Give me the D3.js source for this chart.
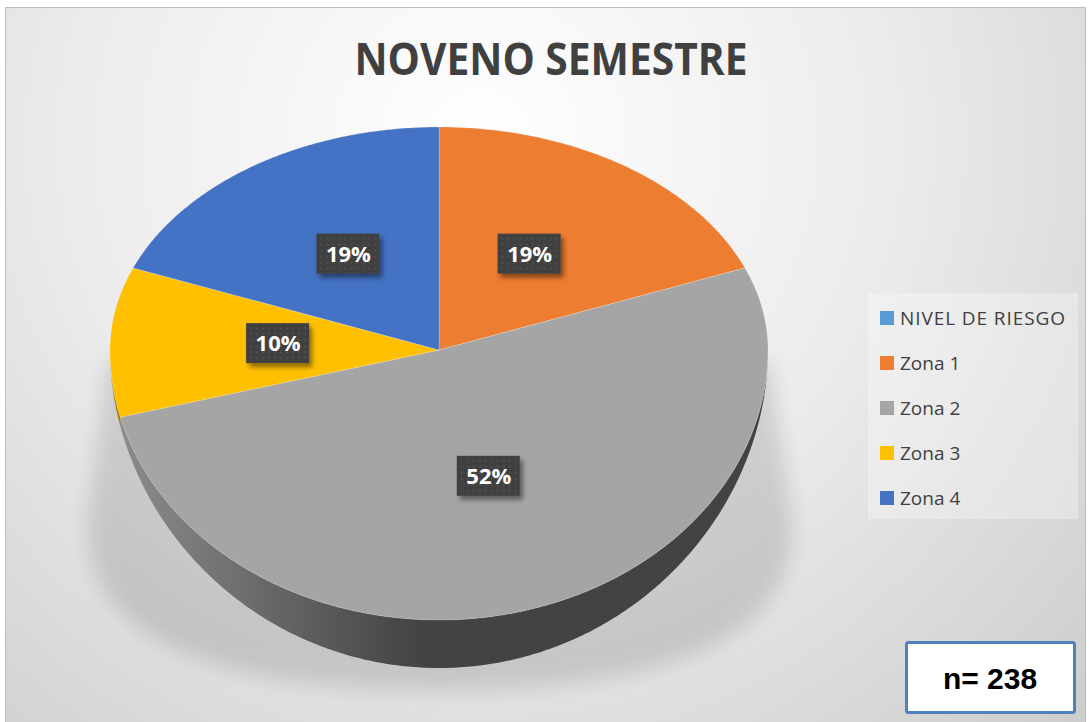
<!DOCTYPE html>
<html>
<head>
<meta charset="utf-8">
<script src="https://cdn.jsdelivr.net/npm/d3@7"></script>
<style>
  body { margin: 0; background: #fff; }
  svg { display: block; }
</style>
</head>
<body>
<script>
// Chart data
const categories = ["NIVEL DE RIESGO", "Zona 1", "Zona 2", "Zona 3", "Zona 4"];
const values = [0, 19, 52, 10, 19];
const colors = ["#5B9BD5", "#ED7D31", "#A5A5A5", "#FFC000", "#4472C4"];
const title = "NOVENO SEMESTRE";
const sampleSize = "n= 238";

let width = 1089;
let height = 722;

// Pie geometry (tilted, with perspective: front half looks taller)
let cx = 439, cy = 350;
let rx = 329, ryTop = 223, ryBottom = 270;
let depth = 48;

var svg = d3.select('body').append('svg')
  .attr('width', width)
  .attr('height', height);

var defs = svg.append('defs');

// Background gradient
var bg = defs.append('radialGradient').attr('id', 'bg')
  .attr('gradientUnits', 'userSpaceOnUse')
  .attr('cx', 480).attr('cy', 140).attr('r', 900);
bg.append('stop').attr('offset', 0).attr('stop-color', '#ffffff');
bg.append('stop').attr('offset', 0.45).attr('stop-color', '#ececec');
bg.append('stop').attr('offset', 1).attr('stop-color', '#c8c8c8');

// Side shading
var side = defs.append('linearGradient').attr('id', 'side')
  .attr('gradientUnits', 'userSpaceOnUse')
  .attr('x1', 110).attr('x2', 420).attr('y1', 0).attr('y2', 0);
side.append('stop').attr('offset', 0).attr('stop-color', '#8e8e8e');
side.append('stop').attr('offset', 1).attr('stop-color', '#434343');

var blur = defs.append('filter').attr('id', 'blur')
  .attr('x', '-20%').attr('y', '-20%').attr('width', '140%').attr('height', '140%');
blur.append('feGaussianBlur').attr('stdDeviation', 10);

var lblShadow = defs.append('filter').attr('id', 'lblShadow')
  .attr('x', '-30%').attr('y', '-30%').attr('width', '160%').attr('height', '170%');
lblShadow.append('feDropShadow').attr('dx', 3).attr('dy', 4)
  .attr('stdDeviation', 2.5).attr('flood-color', '#000').attr('flood-opacity', 0.45);

// Dotted texture for the label boxes
var dots = defs.append('pattern').attr('id', 'dots')
  .attr('patternUnits', 'userSpaceOnUse').attr('width', 6).attr('height', 6);
dots.append('rect').attr('width', 6).attr('height', 6).attr('fill', '#404040');
dots.append('circle').attr('cx', 3).attr('cy', 3).attr('r', 0.9).attr('fill', '#555');

// Chart area
svg.append('rect').attr('x', 5.5).attr('y', 7.5).attr('width', 1080).attr('height', 720)
  .attr('fill', 'url(#bg)').attr('stroke', '#bdbdbd');

// Title
svg.append('text')
  .attr('x', 551).attr('y', 75)
  .attr('text-anchor', 'middle')
  .attr('font-family', 'Open Sans, sans-serif')
  .attr('font-weight', 'bold')
  .attr('font-size', 44)
  .attr('fill', '#404040')
  .attr('textLength', 393)
  .attr('lengthAdjust', 'spacingAndGlyphs')
  .text(title);

// Project an angle (clockwise from 12 o'clock) onto the tilted top face
function proj(a, f) {
  let c = Math.cos(a);
  return [cx + rx * f * Math.sin(a), cy - f * c * (c > 0 ? ryTop : ryBottom)];
}

function sideDepth(a) {
  return depth * Math.pow(Math.max(0, -Math.cos(a)), 1.2);
}

function sampleAngles(a0, a1) {
  let n = Math.max(2, Math.ceil((a1 - a0) / 0.01));
  return d3.range(n + 1).map(i => a0 + (a1 - a0) * i / n);
}

var pie = d3.pie().sort(null).value(d => d).startAngle(0).endAngle(2 * Math.PI);
var arcs = pie(values);

// Soft shadow under the pie
svg.append('path')
  .attr('d', 'M108,360 L770,360 L792,520 Q800,690 439,690 Q80,690 88,520 Z')
  .attr('fill', '#000').attr('opacity', 0.12).attr('filter', 'url(#blur)');

// Side walls (front half only)
arcs.forEach(function(d, i) {
  let s = Math.max(d.startAngle, Math.PI / 2);
  let e = Math.min(d.endAngle, 3 * Math.PI / 2);
  if (e <= s) return;
  let angs = sampleAngles(s, e);
  let top = angs.map(a => proj(a, 1));
  let bottom = angs.slice().reverse().map(a => {
    let p = proj(a, 1);
    return [p[0], p[1] + sideDepth(a)];
  });
  let pts = top.concat(bottom);
  let fill = i === 2 ? 'url(#side)' : d3.color(colors[i]).darker(1.2);
  svg.append('path')
    .attr('d', 'M' + pts.map(p => p.join(',')).join('L') + 'Z')
    .attr('fill', fill);
});

// Top face slices
arcs.forEach(function(d, i) {
  if (d.endAngle - d.startAngle <= 0) return;
  let pts = [[cx, cy]].concat(sampleAngles(d.startAngle, d.endAngle).map(a => proj(a, 1)));
  svg.append('path')
    .attr('d', 'M' + pts.map(p => p.join(',')).join('L') + 'Z')
    .attr('fill', colors[i])
    .attr('stroke', '#ffffff')
    .attr('stroke-opacity', 0.35)
    .attr('stroke-width', 0.6);
});

// Data labels
var fmt = d3.format('.0%');
arcs.forEach(function(d, i) {
  if (d.value <= 0) return;
  let mid = (d.startAngle + d.endAngle) / 2;
  let p = proj(mid, 0.49);
  if (Math.cos(mid) > 0.5) p[1] -= 6;
  let g = svg.append('g').attr('transform', 'translate(' + p[0] + ',' + p[1] + ')');
  g.append('rect')
    .attr('x', -32).attr('y', -20).attr('width', 63).attr('height', 40)
    .attr('fill', 'url(#dots)')
    .attr('filter', 'url(#lblShadow)');
  g.append('text')
    .attr('text-anchor', 'middle').attr('dy', '0.36em')
    .attr('font-family', 'Open Sans, sans-serif')
    .attr('font-weight', 'bold').attr('font-size', 22)
    .attr('fill', '#ffffff')
    .text(fmt(d.value / 100));
});

// Legend
var legend = svg.append('g');
legend.append('rect')
  .attr('x', 868).attr('y', 293).attr('width', 210).attr('height', 226)
  .attr('fill', '#ffffff').attr('opacity', 0.3);
categories.forEach(function(c, i) {
  let y = 318 + i * 45;
  legend.append('rect')
    .attr('x', 880).attr('y', y - 7).attr('width', 14).attr('height', 14)
    .attr('fill', colors[i]);
  legend.append('text')
    .attr('x', 900).attr('y', y).attr('dy', '0.35em')
    .attr('font-family', 'Open Sans, sans-serif')
    .attr('font-size', 19)
    .attr('fill', '#404040')
    .attr('textLength', c.length > 10 ? 165 : null)
    .text(c);
});

// Sample size box
svg.append('rect')
  .attr('x', 906.5).attr('y', 642.5).attr('width', 168).attr('height', 70).attr('rx', 2)
  .attr('fill', '#ffffff').attr('stroke', '#4f81bd').attr('stroke-width', 3);
svg.append('text')
  .attr('x', 990).attr('y', 678).attr('dy', '0.35em')
  .attr('text-anchor', 'middle')
  .attr('font-family', 'Liberation Sans, Arial, sans-serif')
  .attr('font-weight', 'bold').attr('font-size', 30)
  .attr('fill', '#000')
  .text(sampleSize);
</script>
</body>
</html>
